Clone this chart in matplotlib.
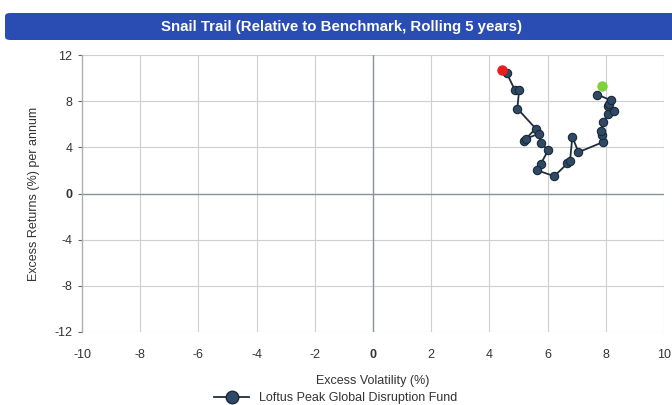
import matplotlib.pyplot as plt
from matplotlib.patches import FancyBboxPatch
from matplotlib.lines import Line2D

plt.rcParams['font.family'] = ['Liberation Sans', 'DejaVu Sans']
plt.rcParams['axes.unicode_minus'] = False

# trail points (excess volatility %, excess return %)
vol = [4.59, 4.88, 5.02, 4.96, 5.59, 5.20, 5.25, 5.71, 5.76, 6.02, 5.76, 5.63,
       6.23, 6.68, 6.77, 6.85, 7.06, 7.89, 7.86, 7.82, 7.91, 8.07, 8.28, 8.09,
       8.12, 8.17, 7.71]
ret = [10.45, 8.94, 8.94, 7.36, 5.63, 4.59, 4.74, 5.19, 4.39, 3.75, 2.54, 2.02,
       1.50, 2.60, 2.80, 4.91, 3.58, 4.44, 5.11, 5.39, 6.17, 6.90, 7.19, 7.56,
       7.79, 8.08, 8.57]
start_pt = (4.44, 10.74)
end_pt = (7.86, 9.29)

xticks = [-10, -8, -6, -4, -2, 0, 2, 4, 6, 8, 10]
yticks = [-12, -8, -4, 0, 4, 8, 12]
series_name = "Loftus Peak Global Disruption Fund"

fig = plt.figure(figsize=(6.72, 4.05), dpi=100)

# title bar
bar = FancyBboxPatch((5/672, 1-40/405), 1.0, 27/405,
                     boxstyle="round,pad=0,rounding_size=0.008",
                     transform=fig.transFigure, facecolor='#2a4db4',
                     edgecolor='none', clip_on=False)
fig.patches.append(bar)
fig.text(0.508, 1-26.5/405, "Snail Trail (Relative to Benchmark, Rolling 5 years)",
         color='white', fontsize=10.8, fontweight='bold', ha='center', va='center')

ax = fig.add_axes([82/672, 1-332/405, (664-82)/672, (332-55)/405])
ax.set_xlim(-10, 10)
ax.set_ylim(-12, 12)
ax.set_xticks(xticks)
ax.set_yticks(yticks)
ax.grid(True, color='#cfcfcf', linewidth=0.8)
ax.set_axisbelow(True)
ax.axhline(0, color='#8a93a0', linewidth=1.0, zorder=1)
ax.axvline(0, color='#8a93a0', linewidth=1.0, zorder=1)
for s in ['top', 'right', 'bottom']:
    ax.spines[s].set_visible(False)
ax.spines['left'].set_color('#b0b0b0')
ax.spines['left'].set_linewidth(1.0)
ax.tick_params(axis='both', length=3, color='#666666', labelsize=9,
               labelcolor='#333333', pad=4)
ax.tick_params(axis='x', length=0, pad=12)
for lab in ax.get_xticklabels() + ax.get_yticklabels():
    if lab.get_text() in ('0',):
        lab.set_fontweight('bold')

ax.plot(vol, ret, color='#1e2d3d', linewidth=1.3, marker='o', markersize=6,
        markerfacecolor='#2f4a66', markeredgecolor='#1b2836',
        markeredgewidth=0.8, zorder=3)
ax.plot([start_pt[0]], [start_pt[1]], 'o', color='#ee1c1c', markersize=6.5, zorder=4)
ax.plot([end_pt[0]], [end_pt[1]], 'o', color='#7fd13b', markersize=6.5, zorder=4)

ax.set_xlabel("Excess Volatility (%)", fontsize=9, color='#333333', labelpad=10)
ax.set_ylabel("Excess Returns (%) per annum", fontsize=9, color='#333333', labelpad=10)

handle = Line2D([0], [0], color='#1e2d3d', linewidth=1.3, marker='o', markersize=9,
                markerfacecolor='#2f4a66', markeredgecolor='#1b2836')
fig.legend([handle], [series_name], loc='center', bbox_to_anchor=(0.5, 1-398/405),
           frameon=False, fontsize=9, handlelength=2.8, labelcolor='#333333')

fig.savefig("out.png", dpi=100)
